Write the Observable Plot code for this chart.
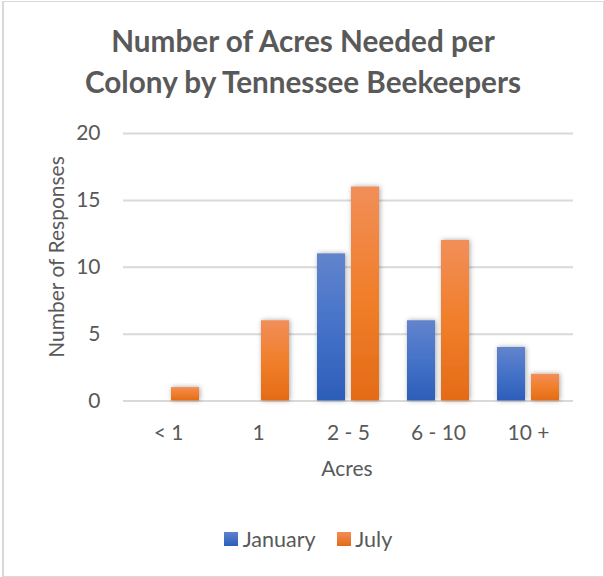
<!DOCTYPE html>
<html>
<head>
<meta charset="utf-8">
<script src="https://cdn.jsdelivr.net/npm/d3@7"></script>
<script src="https://cdn.jsdelivr.net/npm/@observablehq/plot@0.6"></script>
<style>
  html, body { margin: 0; padding: 0; background: #fff; }
  #page { position: relative; width: 604px; height: 577px; overflow: hidden; font-family: Lato, "DejaVu Sans", sans-serif; color: #595959; }
  #frame { position: absolute; left: 2px; top: 1px; width: 599px; height: 574px; border: 1px solid #d9d9d9; border-left-width: 2px; }
  #chart { position: absolute; left: 0; top: 0; }
  .title { position: absolute; left: 0; width: 606px; top: 19.7px; text-align: center; font-weight: 700; font-size: 29.7px; line-height: 41px; color: #595959; }
  .lbl { position: absolute; font-size: 21px; line-height: normal; white-space: nowrap; color: #595959; }
  .sw { position: absolute; width: 14px; height: 14px; }
</style>
</head>
<body>
<div id="page">
  <div id="frame"></div>
  <div id="chart"></div>
  <div class="title">Number of Acres Needed per<br>Colony by Tennessee Beekeepers</div>
  <div class="lbl" id="xlabel" style="left:347px; top:454.8px; transform:translateX(-50%);">Acres</div>
  <div class="lbl" id="ylabel" style="left:55px; top:256.5px; transform:translate(-50%,-50%) rotate(-90deg);">Number of Responses</div>
  <div class="sw" style="left:224px; top:532px; background:linear-gradient(#5f82cc,#2c5eb9);"></div>
  <div class="lbl" style="left:242.7px; top:525.8px; font-size:21.5px;">January</div>
  <div class="sw" style="left:337px; top:532px; background:linear-gradient(#f18d58,#e46b17);"></div>
  <div class="lbl" style="left:355.3px; top:525.8px; font-size:21.5px;">July</div>
</div>
<script>
const categories = ["< 1", "1", "2 - 5", "6 - 10", "10 +"];
const seriesNames = ["January", "July"];
const january = [0, 0, 11, 6, 4];
const july = [1, 6, 16, 12, 2];
const yTicks = [0, 5, 10, 15, 20];

const rows = [];
categories.forEach((c, i) => {
  rows.push({cat: c, series: "January", value: january[i]});
  rows.push({cat: c, series: "July", value: july[i]});
});

const svg = Plot.plot({
  width: 604,
  height: 577,
  marginLeft: 121,
  marginRight: 30,
  marginTop: 133,
  marginBottom: 176.5,
  style: {fontFamily: "Lato, 'DejaVu Sans', sans-serif", fontSize: "21px", color: "#595959", background: "transparent", overflow: "visible"},
  fx: {domain: categories, paddingInner: 0, paddingOuter: 0, axis: "bottom", tickSize: 0, tickPadding: 24, label: null},
  x: {domain: seriesNames, paddingInner: 0.164, paddingOuter: 0.3875, axis: null},
  y: {domain: [0, 20], ticks: yTicks, tickSize: 0, tickPadding: 23, label: null},
  marks: [
    Plot.gridY(yTicks.filter(t => t > 0), {stroke: "#d9d9d9", strokeOpacity: 1, strokeWidth: 2}),
    Plot.ruleY([0], {stroke: "#d9d9d9", strokeWidth: 2}),
    Plot.barY(rows.filter(d => d.series === "January" && d.value > 0), {fx: "cat", x: "series", y: "value", fill: "url(#gJan)"}),
    Plot.barY(rows.filter(d => d.series === "July" && d.value > 0), {fx: "cat", x: "series", y: "value", fill: "url(#gJul)"})
  ]
});

const s = d3.select(svg);
const defs = s.insert("defs", ":first-child");
const gj = defs.append("linearGradient").attr("id", "gJan").attr("x1", 0).attr("y1", 0).attr("x2", 0).attr("y2", 1);
gj.append("stop").attr("offset", "0%").attr("stop-color", "#6284cc");
gj.append("stop").attr("offset", "50%").attr("stop-color", "#4572c8");
gj.append("stop").attr("offset", "100%").attr("stop-color", "#2c5eb9");
const go = defs.append("linearGradient").attr("id", "gJul").attr("x1", 0).attr("y1", 0).attr("x2", 0).attr("y2", 1);
go.append("stop").attr("offset", "0%").attr("stop-color", "#f18e59");
go.append("stop").attr("offset", "50%").attr("stop-color", "#f17f2b");
go.append("stop").attr("offset", "100%").attr("stop-color", "#e46b17");
const f = defs.append("filter").attr("id", "shadow").attr("x", "-30%").attr("y", "-30%").attr("width", "160%").attr("height", "160%");
f.append("feDropShadow").attr("dx", 1).attr("dy", 0).attr("stdDeviation", 2.5).attr("flood-color", "#000").attr("flood-opacity", 0.35);
s.selectAll("rect").filter(function() { const fl = this.parentNode.getAttribute("fill") || this.getAttribute("fill") || ""; return fl.startsWith("url("); }).attr("filter", "url(#shadow)");

document.getElementById("chart").appendChild(svg);
</script>
</body>
</html>
